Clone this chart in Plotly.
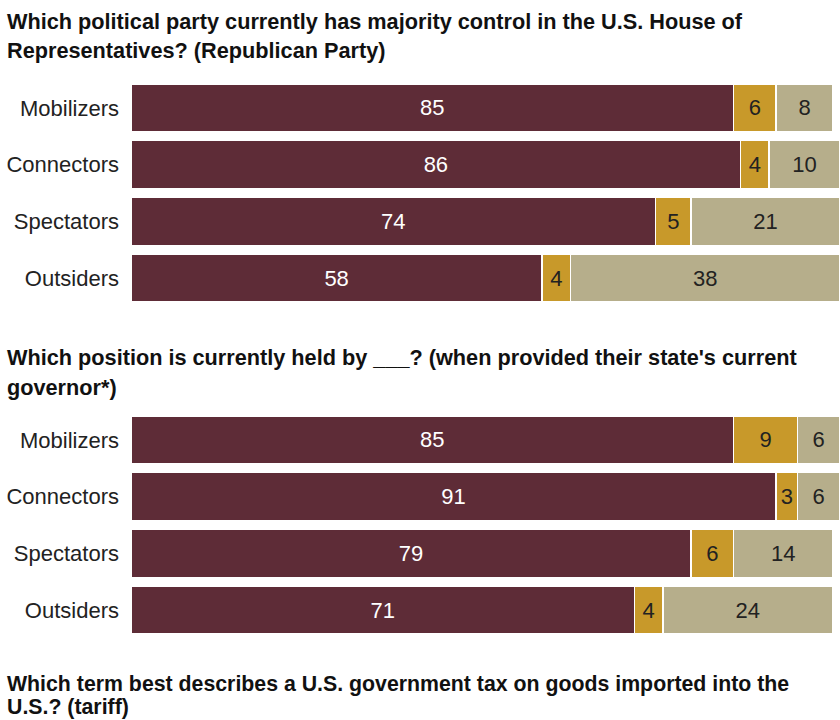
import plotly.graph_objects as go

groups = ["Mobilizers", "Connectors", "Spectators", "Outsiders"]
series_names = ["Correct", "Incorrect", "No answer"]

q1_correct = [85, 86, 74, 58]
q1_incorrect = [6, 4, 5, 4]
q1_noanswer = [8, 10, 21, 38]

q2_correct = [85, 91, 79, 71]
q2_incorrect = [9, 3, 6, 4]
q2_noanswer = [6, 6, 14, 24]

title1 = ["Which political party currently has majority control in the U.S. House of",
          "Representatives? (Republican Party)"]
title2 = ["Which position is currently held by ___? (when provided their state's current",
          "governor*)"]
title3 = ["Which term best describes a U.S. government tax on goods imported into the",
          "U.S.? (tariff)"]

colors = ["#5e2c37", "#c8992a", "#b6ae8b"]
text_colors = ["white", "#222222", "#222222"]

W, H = 840, 720


def py(p):
    return 1 - p / H


fig = go.Figure()

panels = [
    ("x", "y", [q1_correct, q1_incorrect, q1_noanswer]),
    ("x2", "y2", [q2_correct, q2_incorrect, q2_noanswer]),
]
for xa, ya, data in panels:
    for name, vals, c, tc in zip(series_names, data, colors, text_colors):
        fig.add_trace(go.Bar(
            x=vals, y=groups, orientation="h", name=name,
            xaxis=xa, yaxis=ya,
            marker=dict(color=c, line=dict(color="white", width=1.5)),
            text=[str(v) for v in vals], textposition="inside",
            insidetextanchor="middle", textangle=0,
            textfont=dict(color=tc, size=22, family="Liberation Sans, Arial, sans-serif"),
            showlegend=False, hoverinfo="skip",
        ))

axis_font = dict(size=22, color="#222222", family="Liberation Sans, Arial, sans-serif")
x_common = dict(range=[0, 100], domain=[131 / W, 1], showgrid=False, zeroline=False,
                showticklabels=False, showline=False, fixedrange=True)
y_common = dict(categoryorder="array", categoryarray=groups, autorange="reversed",
                showgrid=False, zeroline=False, showline=False, ticks="",
                tickfont=axis_font, ticklabelstandoff=11, fixedrange=True)

fig.update_layout(
    width=W, height=H,
    margin=dict(l=0, r=0, t=0, b=0),
    paper_bgcolor="white", plot_bgcolor="white",
    barmode="stack", bargap=0.15,
    uniformtext=dict(minsize=20, mode="show"),
    xaxis=dict(**x_common, anchor="y"),
    xaxis2=dict(**x_common, anchor="y2"),
    yaxis=dict(**y_common, domain=[py(306.4), py(79.6)], anchor="x"),
    yaxis2=dict(**y_common, domain=[py(638.4), py(411.6)], anchor="x2"),
)

title_font = dict(size=21.7, color="#111111", family="Liberation Sans, Arial, sans-serif")
title3_font = dict(size=21.3, color="#111111", family="Liberation Sans, Arial, sans-serif")

annots = []
for lines, tops, f in [(title1, [21, 51], title_font),
                       (title2, [357, 387], title_font),
                       (title3, [684, 707], title3_font)]:
    for line, yc in zip(lines, tops):
        annots.append(dict(text="<b>" + line + "</b>", x=5 / W, y=py(yc), xref="paper", yref="paper",
                           xanchor="left", yanchor="middle", showarrow=False, font=f))
fig.update_layout(annotations=annots)

fig.write_html("out.html")
